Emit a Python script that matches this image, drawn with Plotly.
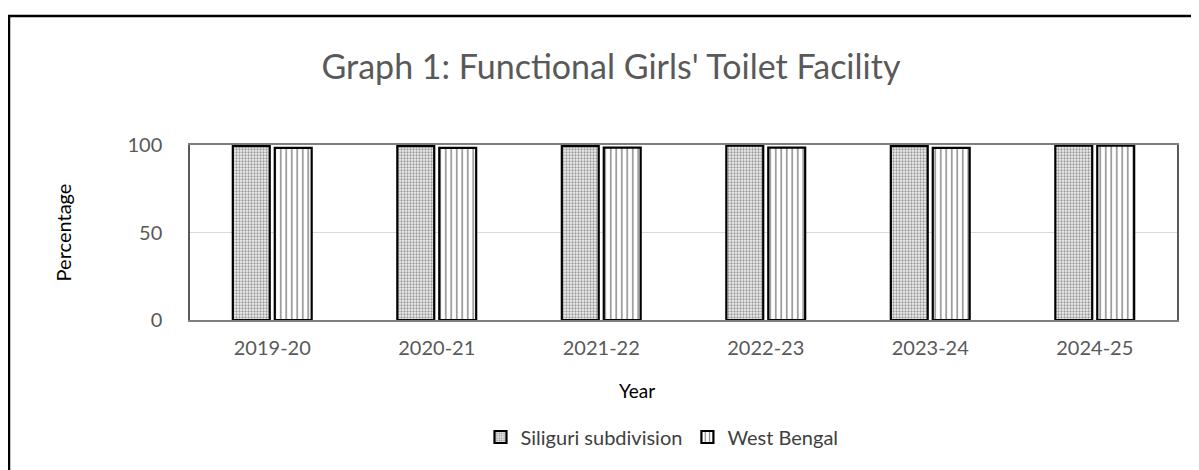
import plotly.graph_objects as go

years = ["2019-20", "2020-21", "2021-22", "2022-23", "2023-24", "2024-25"]
siliguri = [99.4, 99.4, 99.4, 99.6, 99.4, 99.7]
west_bengal = [98.4, 98.4, 98.5, 98.5, 98.4, 99.6]

FONT = "Lato, Calibri, Carlito, sans-serif"
GRAY = "#595959"

fig = go.Figure()
fig.add_trace(go.Bar(
    name="Siliguri subdivision", x=years, y=siliguri,
    marker=dict(color="white", line=dict(color="black", width=2.2),
                pattern=dict(shape=".", fgcolor="#444444", bgcolor="#f0f0f0",
                             size=3, solidity=0.45)),
))
fig.add_trace(go.Bar(
    name="West Bengal", x=years, y=west_bengal,
    marker=dict(color="white", line=dict(color="black", width=2.2),
                pattern=dict(shape="|", fgcolor="black", bgcolor="white",
                             size=5.5, solidity=0.25)),
))

# page body has an 8px margin, so the figure is offset by 8px
OFF = 8
W, H = 1199 - OFF, 470 - OFF
L, T = 190 - OFF, 145 - OFF
pw, ph = 987, 175
R = W - L - pw
B = H - T - ph

def px_x(x):
    return (x - OFF - L) / pw

def px_y(y):
    return (T + ph - (y - OFF)) / ph

fig.update_layout(
    width=W, height=H,
    margin=dict(l=L, r=R, t=T, b=B),
    paper_bgcolor="white", plot_bgcolor="white",
    barmode="group", bargap=0.49, bargroupgap=0.12,
    font=dict(family=FONT, color=GRAY),
    title=dict(text="Graph 1: Functional Girls' Toilet Facility",
               x=(611 - OFF) / W, xanchor="center", y=1 - (67 - OFF) / H,
               yanchor="middle",
               font=dict(size=34, color=GRAY, family=FONT)),
    legend=dict(orientation="h", x=px_x(662), xanchor="center",
                y=px_y(437), yanchor="middle",
                font=dict(size=20, color="#404040", family=FONT),
                itemwidth=30, traceorder="normal"),
    xaxis=dict(showline=True, linecolor="#7f7f7f", linewidth=1.5, mirror=True,
               ticks="", tickfont=dict(size=20, color=GRAY),
               ticklabelstandoff=9),
    yaxis=dict(range=[0, 100], tickvals=[0, 50, 100], showline=True,
               linecolor="#595959", linewidth=1.5, mirror=True,
               gridcolor="#d9d9d9", gridwidth=1, zeroline=False,
               ticks="", tickfont=dict(size=20, color=GRAY),
               ticklabelstandoff=22,
               title=dict(text="Percentage", font=dict(size=20, color="black"),
                          standoff=50)),
    annotations=[dict(text="Year", xref="paper", yref="paper",
                      x=px_x(637), y=px_y(390), xanchor="center",
                      yanchor="middle", showarrow=False,
                      font=dict(size=19, color="black", family=FONT))],
    shapes=[dict(type="rect", xref="paper", yref="paper",
                 x0=px_x(9), x1=1.2, y0=-1.5, y1=px_y(16),
                 line=dict(color="black", width=2.5), fillcolor="rgba(0,0,0,0)",
                 layer="below")],
)

fig.write_html("out.html")
